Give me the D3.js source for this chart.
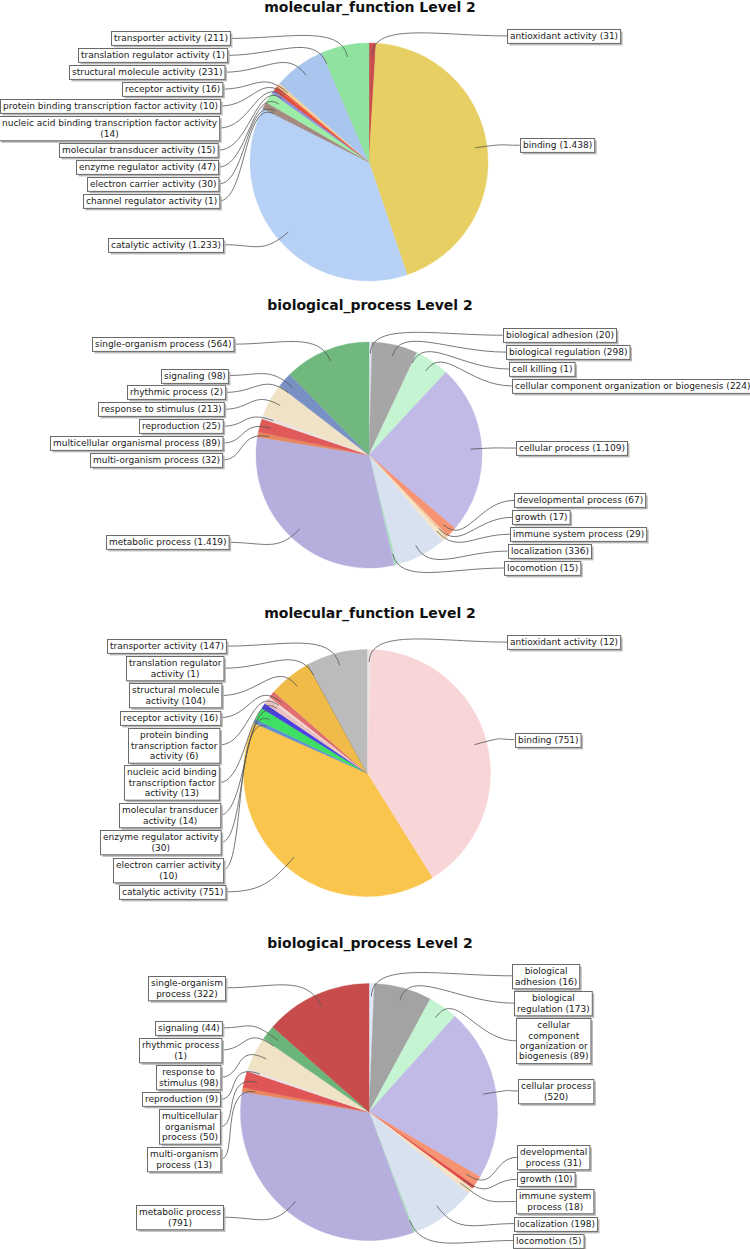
<!DOCTYPE html>
<html><head><meta charset="utf-8">
<script src="https://cdn.jsdelivr.net/npm/d3@7"></script>
<style>body{margin:0;background:#fff} svg{display:block}</style>
</head><body>
<svg id="chart" width="750" height="1249"></svg>
<script>
// ---------- DATA ----------
const mf1Title = "molecular_function Level 2";
const mf1Categories = ["antioxidant activity","binding","catalytic activity","channel regulator activity","electron carrier activity","enzyme regulator activity","molecular transducer activity","nucleic acid binding transcription factor activity","protein binding transcription factor activity","receptor activity","structural molecule activity","translation regulator activity","transporter activity"];
const mf1Values = [31,1438,1233,1,30,47,15,14,10,16,231,1,211];
const mf1Colors = ["#c9504e","#e8cf63","#b7d1f6","#8f8fa0","#a3897f","#9ceea6","#8f8fd8","#e24b3d","#e8603c","#f6cf98","#a9c6ee","#b0c8a0","#8ee39e"];

const bp1Title = "biological_process Level 2";
const bp1Categories = ["biological adhesion","biological regulation","cell killing","cellular component organization or biogenesis","cellular process","developmental process","growth","immune system process","localization","locomotion","metabolic process","multi-organism process","multicellular organismal process","reproduction","response to stimulus","rhythmic process","signaling","single-organism process"];
const bp1Values = [20,298,1,224,1109,67,17,29,336,15,1419,32,89,25,213,2,98,564];
const bp1Colors = ["#dfe6f2","#a6a6a6","#d0d0d0","#c4f4d2","#c1b9e6","#f59373","#f4c9a0","#f6e4c6","#d7e1f0","#a9dfc0","#b6aedd","#e7875e","#e15a5a","#ece2e2","#f0e2c4","#c0c0d0","#7890c4","#70b87e"];

const mf2Title = "molecular_function Level 2";
const mf2Categories = ["antioxidant activity","binding","catalytic activity","electron carrier activity","enzyme regulator activity","molecular transducer activity","nucleic acid binding transcription factor activity","protein binding transcription factor activity","receptor activity","structural molecule activity","translation regulator activity","transporter activity"];
const mf2Values = [12,751,751,10,30,14,13,6,16,104,1,147];
const mf2Colors = ["#efe2e2","#f8d5d6","#f9c54d","#5f8fd2","#3ee063","#4a3fe0","#eac0c0","#f3dcd6","#e07070","#f0bb48","#7a7a5a","#bbbbbb"];

const bp2Title = "biological_process Level 2";
const bp2Categories = ["biological adhesion","biological regulation","cellular component organization or biogenesis","cellular process","developmental process","growth","immune system process","localization","locomotion","metabolic process","multi-organism process","multicellular organismal process","reproduction","response to stimulus","rhythmic process","signaling","single-organism process"];
const bp2Values = [16,173,89,520,31,10,18,198,5,791,13,50,9,98,1,44,322];
const bp2Colors = ["#dfe6f6","#a3a3a3","#c4f4d2","#c1b9e6","#f59373","#e04848","#f6e2c2","#d7e1f0","#a3dfb5","#b6aedd","#e8875e","#e05555","#ece2e2","#f0e2c4","#c8c8d8","#6cb57a","#c84c4c"];

// ---------- LAYOUT ----------
const panels = [
  {title: mf1Title, cats: mf1Categories, vals: mf1Values, colors: mf1Colors, titleY: 11.5, cx: 369, cy: 162, r: 119, wrap: 225, A: 151, B: 312},
  {title: bp1Title, cats: bp1Categories, vals: bp1Values, colors: bp1Colors, titleY: 310, cx: 369, cy: 455, r: 113, wrap: 250, A: 147, B: 287},
  {title: mf2Title, cats: mf2Categories, vals: mf2Values, colors: mf2Colors, titleY: 618, cx: 367, cy: 773, r: 123.5, wrap: 120, A: 148, B: 410},
  {title: bp2Title, cats: bp2Categories, vals: bp2Values, colors: bp2Colors, titleY: 948, cx: 369, cy: 1112, r: 128.5, wrap: 84, A: 149, B: 500}
];

const FONT = "'DejaVu Sans', Verdana, sans-serif";
const FS = 9, LH = 10.4, PADV = 3.5, PADH = 5, GAP = 3;
const locale = d3.formatLocale({decimal: ",", thousands: ".", grouping: [3], currency: ["", ""]});
const fmt = locale.format(",d");

const canvas = document.createElement("canvas");
const ctx = canvas.getContext("2d");
ctx.font = FS + "px " + FONT;
const tw = s => ctx.measureText(s).width;

function wrap(text, maxW) {
  const words = text.split(" ");
  const lines = [];
  let cur = "";
  words.forEach(w => {
    const t = cur ? cur + " " + w : w;
    if (cur && tw(t) > maxW) { lines.push(cur); cur = w; } else cur = t;
  });
  if (cur) lines.push(cur);
  return lines;
}

const svg = d3.select("#chart");

panels.forEach(p => {
  const g = svg.append("g");
  g.append("text").attr("x", 370).attr("y", p.titleY)
    .attr("text-anchor", "middle")
    .style("font-family", FONT).style("font-weight", "bold").style("font-size", "14px")
    .attr("fill", "#111").text(p.title);

  const data = p.cats.map((c, i) => ({cat: c, value: p.vals[i], color: p.colors[i]}));
  const pie = d3.pie().sort(null).value(d => d.value);
  const arcs = pie(data);
  const arc = d3.arc().innerRadius(0).outerRadius(p.r);

  const pg = g.append("g").attr("transform", `translate(${p.cx},${p.cy})`);
  pg.selectAll("path").data(arcs).join("path")
    .attr("d", arc)
    .attr("fill", d => d.data.color)
    .attr("stroke", d => d.data.color).attr("stroke-width", 0.4);

  // labels
  const items = arcs.map(a => {
    const mid = (a.startAngle + a.endAngle) / 2;
    const lines = wrap(`${a.data.cat} (${fmt(a.data.value)})`, p.wrap);
    const w = d3.max(lines, tw) + PADH;
    const h = lines.length * LH + PADV;
    return {
      mid, lines, w, h,
      side: mid < Math.PI ? 1 : -1,
      desired: p.cy - Math.cos(mid) * p.r * 1.06,
      ax: p.cx + Math.sin(mid) * p.r * 0.9,
      ay: p.cy - Math.cos(mid) * p.r * 0.9
    };
  });

  [1, -1].forEach(side => {
    const list = items.filter(d => d.side === side).sort((a, b) => a.desired - b.desired);
    list.forEach((d, i) => {
      d.y = d.desired;
      if (i > 0) {
        const prev = list[i - 1];
        d.y = Math.max(d.y, prev.y + prev.h / 2 + GAP + d.h / 2);
      }
    });
    const bottom = p.cy + p.r;
    for (let i = list.length - 1; i >= 0; i--) {
      if (i === list.length - 1) list[i].y = Math.min(list[i].y, bottom);
      else {
        const nx = list[i + 1];
        list[i].y = Math.min(list[i].y, nx.y - (nx.h / 2 + GAP + list[i].h / 2));
      }
    }
  });

  items.forEach(d => {
    const dy = d.y - p.cy;
    const off = p.A * Math.sqrt(Math.max(0, 1 - (dy / p.B) * (dy / p.B)));
    d.bx = d.side === 1 ? p.cx + off : p.cx - off - d.w; // box left
    d.attachX = d.side === 1 ? d.bx : d.bx + d.w;
  });

  // connectors
  const lg = g.append("g");
  items.forEach(d => {
    const x0 = d.attachX, y0 = d.y;
    const dir = d.side === 1 ? -1 : 1;
    const h = Math.abs(d.ax - x0) * 0.5;
    const L = p.r * 0.28;
    const rx = Math.sin(d.mid), ry = -Math.cos(d.mid);
    const path = d3.path();
    path.moveTo(x0, y0);
    path.bezierCurveTo(x0 + dir * h, y0, d.ax + rx * L, d.ay + ry * L, d.ax, d.ay);
    lg.append("path").attr("d", path.toString())
      .attr("fill", "none").attr("stroke", "#555").attr("stroke-width", 0.8);
  });

  // boxes
  const bg = g.append("g");
  items.forEach(d => {
    const top = d.y - d.h / 2;
    const bx = Math.round(d.bx) + 0.5, by = Math.round(top) + 0.5;
    bg.append("rect").attr("x", bx + 2).attr("y", by + 2).attr("width", d.w).attr("height", d.h)
      .attr("fill", "#b8b8b8");
    bg.append("rect").attr("x", bx).attr("y", by).attr("width", d.w).attr("height", d.h)
      .attr("fill", "#fff").attr("stroke", "#6a6a6a").attr("stroke-width", 1);
    const t = bg.append("text").attr("text-anchor", "middle")
      .style("font-family", FONT).style("font-size", FS + "px").attr("fill", "#1a1a1a");
    d.lines.forEach((ln, i) => {
      t.append("tspan").attr("x", bx + d.w / 2).attr("y", by + 1.7 + i * LH + 8).text(ln);
    });
  });
});
</script>
</body></html>
